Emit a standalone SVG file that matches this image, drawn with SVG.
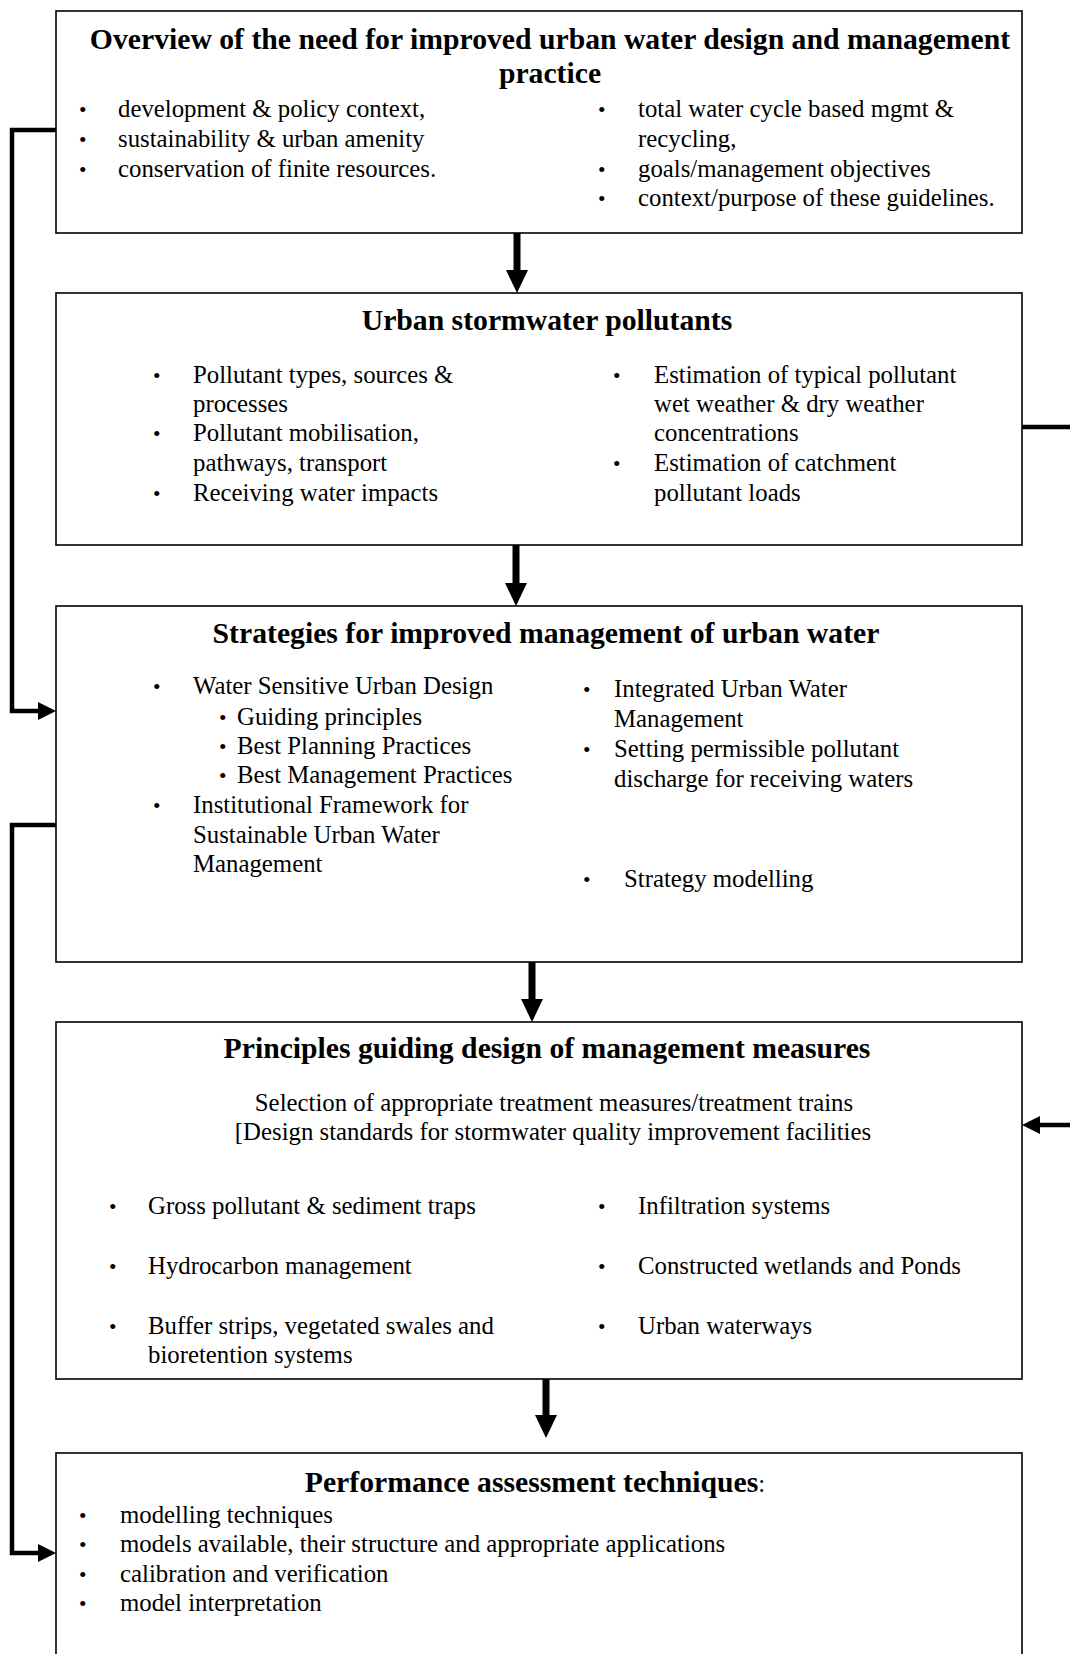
<svg xmlns="http://www.w3.org/2000/svg" width="1070" height="1654" viewBox="0 0 1070 1654">
  <style>
    .box { fill: #ffffff; stroke: #000000; stroke-width: 1.6; }
    .title { font-family: "Liberation Serif", "Times New Roman", serif; font-weight: bold; font-size: 29.7px; fill: #000; text-anchor: middle; }
    .txt { font-family: "Liberation Serif", "Times New Roman", serif; font-size: 24.8px; fill: #000; }
    .dot { font-size: 21.5px; }
    .mid { text-anchor: middle; }
    .flow { fill: none; stroke: #000; stroke-width: 7; }
    .link { fill: none; stroke: #000; stroke-width: 4.5; }
  </style>
  <defs>
    <marker id="headDown" markerUnits="userSpaceOnUse" markerWidth="24" markerHeight="24" refX="0" refY="11" orient="auto" overflow="visible">
      <path d="M0,0 L23,11 L0,22 Z" fill="#000"/>
    </marker>
    <marker id="headSide" markerUnits="userSpaceOnUse" markerWidth="20" markerHeight="20" refX="0" refY="9" orient="auto" overflow="visible">
      <path d="M0,0 L18,9 L0,18 Z" fill="#000"/>
    </marker>
  </defs>

  <rect width="1070" height="1654" fill="#ffffff"/>

  <!-- connectors -->
  <g id="connectors">
    <path class="flow" d="M517,233 V270" marker-end="url(#headDown)"/>
    <path class="flow" d="M516,545 V583" marker-end="url(#headDown)"/>
    <path class="flow" d="M532,962 V999" marker-end="url(#headDown)"/>
    <path class="flow" d="M546,1379 V1415" marker-end="url(#headDown)"/>
    <path class="link" d="M56,130 H12 V711 H38" marker-end="url(#headSide)"/>
    <path class="link" d="M56,825 H12 V1553 H38" marker-end="url(#headSide)"/>
    <path class="link" d="M1022,427 H1075"/>
    <path class="link" d="M1075,1125 H1040" marker-end="url(#headSide)"/>
  </g>

  <!-- overview -->
  <g id="overview">
    <rect class="box" x="56" y="11" width="966" height="222"/>
    <text class="title" x="550" y="49">Overview of the need for improved urban water design and management</text>
    <text class="title" x="550" y="83">practice</text>
    <g class="txt">
      <text class="dot" x="79" y="117">•</text><text x="118" y="117">development &amp; policy context,</text>
      <text class="dot" x="79" y="147">•</text><text x="118" y="147">sustainability &amp; urban amenity</text>
      <text class="dot" x="79" y="177">•</text><text x="118" y="177">conservation of finite resources.</text>
      <text class="dot" x="598" y="117">•</text><text x="638" y="117">total water cycle based mgmt &amp;</text>
      <text x="638" y="147">recycling,</text>
      <text class="dot" x="598" y="177">•</text><text x="638" y="177">goals/management objectives</text>
      <text class="dot" x="598" y="206">•</text><text x="638" y="206">context/purpose of these guidelines.</text>
    </g>
  </g>

  <!-- pollutants -->
  <g id="pollutants">
    <rect class="box" x="56" y="293" width="966" height="252"/>
    <text class="title" x="547" y="330">Urban stormwater pollutants</text>
    <g class="txt">
      <text class="dot" x="153" y="383">•</text><text x="193" y="383">Pollutant types, sources &amp;</text>
      <text x="193" y="412">processes</text>
      <text class="dot" x="153" y="441">•</text><text x="193" y="441">Pollutant mobilisation,</text>
      <text x="193" y="471">pathways, transport</text>
      <text class="dot" x="153" y="501">•</text><text x="193" y="501">Receiving water impacts</text>
      <text class="dot" x="613" y="383">•</text><text x="654" y="383">Estimation of typical pollutant</text>
      <text x="654" y="412">wet weather &amp; dry weather</text>
      <text x="654" y="441">concentrations</text>
      <text class="dot" x="613" y="471">•</text><text x="654" y="471">Estimation of catchment</text>
      <text x="654" y="501">pollutant loads</text>
    </g>
  </g>

  <!-- strategies -->
  <g id="strategies">
    <rect class="box" x="56" y="606" width="966" height="356"/>
    <text class="title" x="546" y="643">Strategies for improved management of urban water</text>
    <g class="txt">
      <text class="dot" x="153" y="694">•</text><text x="193" y="694">Water Sensitive Urban Design</text>
      <text class="dot" x="219" y="725">•</text><text x="237" y="725">Guiding principles</text>
      <text class="dot" x="219" y="754">•</text><text x="237" y="754">Best Planning Practices</text>
      <text class="dot" x="219" y="783">•</text><text x="237" y="783">Best Management Practices</text>
      <text class="dot" x="153" y="813">•</text><text x="193" y="813">Institutional Framework for</text>
      <text x="193" y="843">Sustainable Urban Water</text>
      <text x="193" y="872">Management</text>
      <text class="dot" x="583" y="697">•</text><text x="614" y="697">Integrated Urban Water</text>
      <text x="614" y="727">Management</text>
      <text class="dot" x="583" y="757">•</text><text x="614" y="757">Setting permissible pollutant</text>
      <text x="614" y="787">discharge for receiving waters</text>
      <text class="dot" x="583" y="887">•</text><text x="624" y="887">Strategy modelling</text>
    </g>
  </g>

  <!-- principles -->
  <g id="principles">
    <rect class="box" x="56" y="1022" width="966" height="357"/>
    <text class="title" x="547" y="1058">Principles guiding design of management measures</text>
    <g class="txt">
      <text class="mid" x="554" y="1111">Selection of appropriate treatment measures/treatment trains</text>
      <text class="mid" x="553" y="1140">[Design standards for stormwater quality improvement facilities</text>
      <text class="dot" x="109" y="1214">•</text><text x="148" y="1214">Gross pollutant &amp; sediment traps</text>
      <text class="dot" x="109" y="1274">•</text><text x="148" y="1274">Hydrocarbon management</text>
      <text class="dot" x="109" y="1334">•</text><text x="148" y="1334">Buffer strips, vegetated swales and</text>
      <text x="148" y="1363">bioretention systems</text>
      <text class="dot" x="598" y="1214">•</text><text x="638" y="1214">Infiltration systems</text>
      <text class="dot" x="598" y="1274">•</text><text x="638" y="1274">Constructed wetlands and Ponds</text>
      <text class="dot" x="598" y="1334">•</text><text x="638" y="1334">Urban waterways</text>
    </g>
  </g>

  <!-- performance -->
  <g id="performance">
    <rect class="box" x="56" y="1453" width="966" height="230"/>
    <text class="title" x="535" y="1492">Performance assessment techniques<tspan font-weight="normal" font-size="24.8">:</tspan></text>
    <g class="txt">
      <text class="dot" x="79" y="1523">•</text><text x="120" y="1523">modelling techniques</text>
      <text class="dot" x="79" y="1552">•</text><text x="120" y="1552">models available, their structure and appropriate applications</text>
      <text class="dot" x="79" y="1582">•</text><text x="120" y="1582">calibration and verification</text>
      <text class="dot" x="79" y="1611">•</text><text x="120" y="1611">model interpretation</text>
    </g>
  </g>
</svg>
